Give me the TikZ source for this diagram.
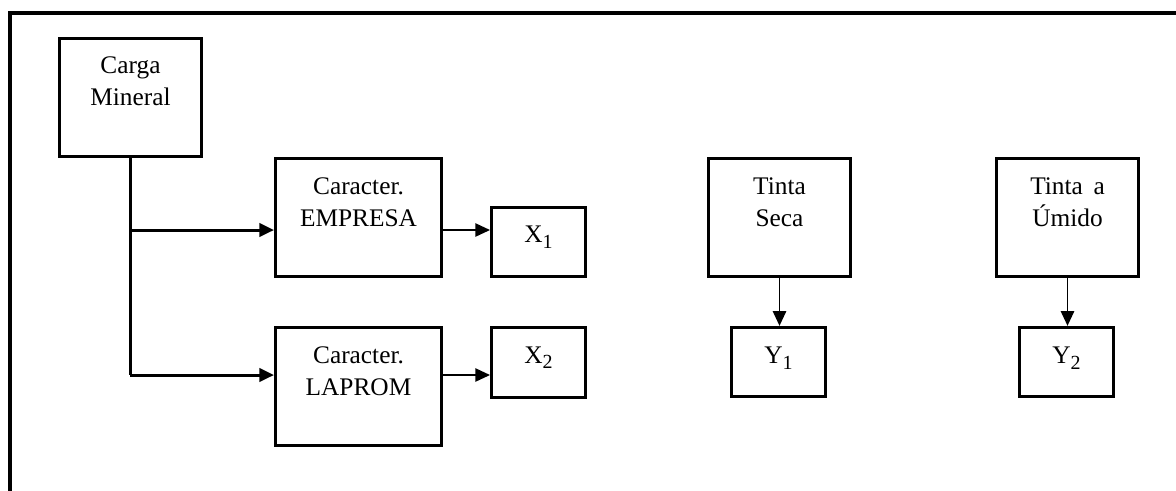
\documentclass[tikz,border=0pt]{standalone}
\usepackage{fontspec}
\setmainfont{Liberation Serif}
\usetikzlibrary{arrows.meta,calc}

\newcommand{\sub}[1]{\raisebox{-4pt}{\fontsize{15}{15}\selectfont #1}}

\begin{document}
\begin{tikzpicture}[x=0.75pt,y=-0.75pt,
  box/.style={draw, line width=2.25pt, rectangle, inner sep=0pt},
  bigbox/.style={box, minimum width=106.5pt, minimum height=88.5pt},
  widebox/.style={box, minimum width=124.5pt, minimum height=88.5pt},
  smallbox/.style={box, minimum width=70.5pt, minimum height=52pt},
  txt/.style={anchor=north, inner sep=0pt, align=center,
    font=\fontsize{19}{24}\selectfont},
  thickline/.style={line width=2.25pt},
  thinline/.style={line width=1.1pt},
  tip/.style={-{Triangle[length=11pt,width=10pt]}}]

\useasboundingbox (0,0) rectangle (1176,490);

% outer frame (top and left edges)
\draw[line width=3pt] (10,492) -- (10,13) -- (1178,13);

% boxes
\node[bigbox]   (carga) at (130.5,97)   {};
\node[widebox]  (emp)   at (358.5,217.5) {};
\node[widebox]  (lap)   at (358.5,386.5) {};
\node[smallbox] (xa)    at (538.5,242)   {};
\node[smallbox] (xb)    at (538.5,362.5) {};
\node[bigbox]   (seca)  at (779.5,217.5) {};
\node[smallbox] (ya)    at (778.5,362)   {};
\node[bigbox]   (umido) at (1067.5,217.5) {};
\node[smallbox] (yb)    at (1066.5,362)  {};

% box texts
\node[txt] (carga-t) at ($(carga.north)+(0,20)$) {Carga\\Mineral};
\node[txt] (emp-t)   at ($(emp.north)+(0,20)$)   {Caracter.\\EMPRESA};
\node[txt] (lap-t)   at ($(lap.north)+(0,20)$)   {Caracter.\\LAPROM};
\node[txt] (xa-t)    at ($(xa.north)+(0,20)$)    {X\sub{1}};
\node[txt] (xb-t)    at ($(xb.north)+(0,20)$)    {X\sub{2}};
\node[txt] (seca-t)  at ($(seca.north)+(0,20)$)  {Tinta\\Seca};
\node[txt] (ya-t)    at ($(ya.north)+(0,21)$)    {Y\sub{1}};
\node[txt] (umido-t) at ($(umido.north)+(0,20)$) {Tinta\hspace{8pt}a\\Úmido};
\node[txt] (yb-t)    at ($(yb.north)+(0,21)$)    {Y\sub{2}};

% branching connectors
\coordinate (j1) at (130,230);
\coordinate (j2) at (130,375);
\draw[thickline] (carga.south -| j1) -- (j2);
\draw[thickline,tip] (j1) -- (emp.west |- j1);
\draw[thickline,tip] (j2) -- (lap.west |- j2);

\draw[thinline,tip] (emp.east |- j1) -- (xa.west |- j1);
\draw[thinline,tip] (lap.east |- j2) -- (xb.west |- j2);

\draw[thinline,tip] (seca.south) -- (seca.south |- ya.north);
\draw[thinline,tip] (umido.south) -- (umido.south |- yb.north);
\end{tikzpicture}
\end{document}
